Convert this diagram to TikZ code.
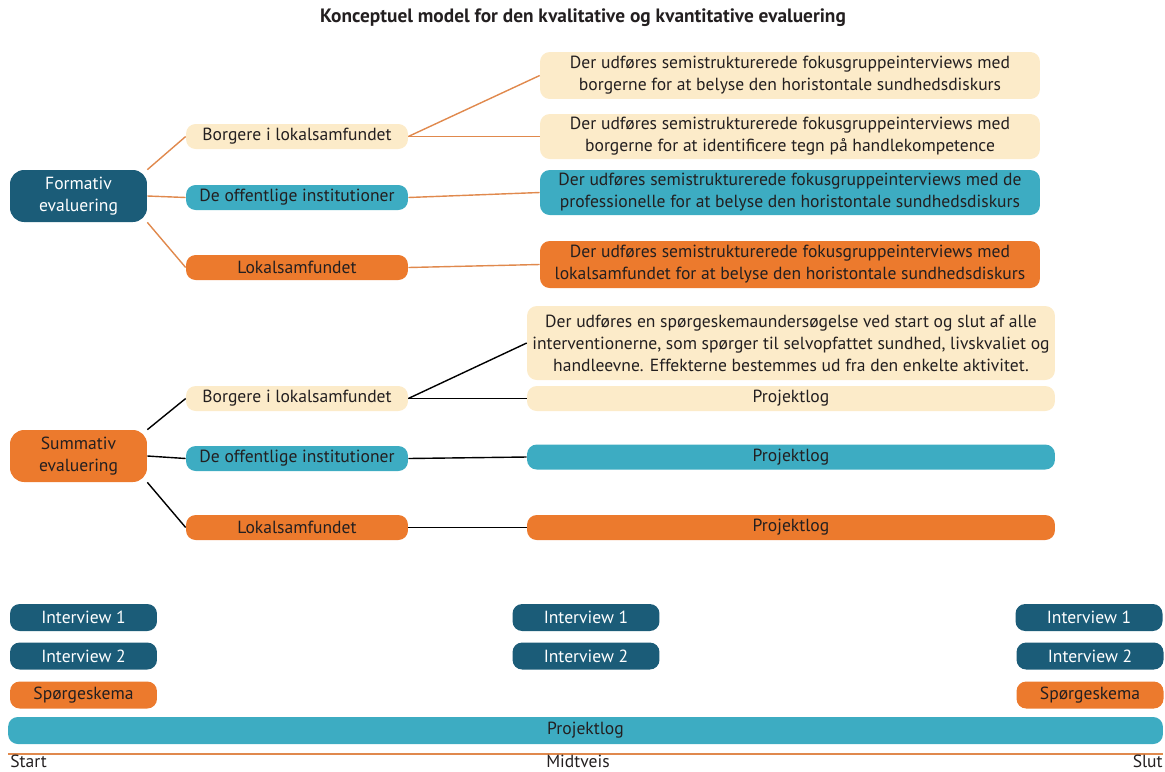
\documentclass[tikz,border=0pt]{standalone}
\usepackage{fontspec}
\setmainfont{PT Sans}
\definecolor{mork}{HTML}{1B5C78}
\definecolor{tyrkis}{HTML}{3DACC2}
\definecolor{orange}{HTML}{EC7A2D}
\definecolor{creme}{HTML}{FCEBC9}
\definecolor{streg}{HTML}{E0894D}
\definecolor{tekst}{HTML}{231F20}
\tikzset{
  boks/.style={rounded corners=5.5pt, inner sep=0pt, align=center, text=tekst,
    font=\fontsize{10}{12.5}\selectfont},
  hoved/.style={boks, minimum width=2.74cm, minimum height=1.04cm, rounded corners=8pt},
  gruppe/.style={boks, minimum width=4.44cm, minimum height=0.5cm},
  metode/.style={boks, minimum width=10cm},
  log/.style={boks, minimum width=10.56cm, minimum height=0.5cm},
  tid/.style={boks, minimum width=2.94cm, minimum height=0.54cm},
  form/.style={draw=streg, line width=0.8pt},
  summ/.style={draw=black, line width=0.8pt}
}
\begin{document}
\begin{tikzpicture}[x=0.02cm, y=-0.02cm]
\useasboundingbox (0,0) rectangle (1165,771);

% Titel
\node[font=\fontsize{11}{13}\selectfont\bfseries, text=tekst] (titel) at (583,18)
  {Konceptuel model for den kvalitative og kvantitative evaluering};

% Formativ evaluering
\node[hoved, fill=mork, text=white] (form) at (78.5,196) {Formativ\\evaluering};
\node[gruppe, fill=creme] (fborg) at (297,136.5) {Borgere i lokalsamfundet};
\node[gruppe, fill=tyrkis] (finst) at (297,197.5) {De offentlige institutioner};
\node[gruppe, fill=orange] (flok) at (297,267.5) {Lokalsamfundet};

\node[metode, fill=creme, minimum height=0.94cm] (fm1) at (790,75.5)
  {Der udføres semistrukturerede fokusgruppeinterviews med\\borgerne for at belyse den horistontale sundhedsdiskurs};
\node[metode, fill=creme, minimum height=0.9cm] (fm2) at (790,136.5)
  {Der udføres semistrukturerede fokusgruppeinterviews med\\borgerne for at identificere tegn på handlekompetence};
\node[metode, fill=tyrkis, minimum height=0.9cm] (fm3) at (790,192.5)
  {Der udføres semistrukturerede fokusgruppeinterviews med de\\professionelle for at belyse den horistontale sundhedsdiskurs};
\node[metode, fill=orange, minimum height=0.94cm] (fm4) at (790,264.5)
  {Der udføres semistrukturerede fokusgruppeinterviews med\\lokalsamfundet for at belyse den horistontale sundhedsdiskurs};

\draw[form] (form.north east) -- (fborg.west);
\draw[form] (form.east) -- (finst.west);
\draw[form] (form.south east) -- (flok.west);
\draw[form] (fborg.east) -- (fm1.west);
\draw[form] (fborg.east) -- (fm2.west);
\draw[form] (finst.east) -- (fm3.west);
\draw[form] (flok.east) -- (fm4.west);

% Summativ evaluering
\node[hoved, fill=orange] (summ) at (78.5,456) {Summativ\\evaluering};
\node[gruppe, fill=creme] (sborg) at (297,398.5) {Borgere i lokalsamfundet};
\node[gruppe, fill=tyrkis] (sinst) at (297,458.5) {De offentlige institutioner};
\node[gruppe, fill=orange] (slok) at (297,527.5) {Lokalsamfundet};

\node[log, fill=creme, minimum height=1.48cm] (sm1) at (791,343)
  {Der udføres en spørgeskemaundersøgelse ved start og slut af alle\\interventionerne, som spørger til selvopfattet sundhed, livskvaliet og\\handleevne. Effekterne bestemmes ud fra den enkelte aktivitet.};
\node[log, fill=creme] (slog1) at (791,398.5) {Projektlog};
\node[log, fill=tyrkis] (slog2) at (791,457) {Projektlog};
\node[log, fill=orange] (slog3) at (791,527.5) {Projektlog};

\draw[summ] (summ.north east) -- (sborg.west);
\draw[summ] (summ.east) -- (sinst.west);
\draw[summ] (summ.south east) -- (slok.west);
\draw[summ] (sborg.east) -- (sm1.west);
\draw[summ] (sborg.east) -- (slog1.west);
\draw[summ] (sinst.east) -- (slog2.west);
\draw[summ] (slok.east) -- (slog3.west);

% Tidslinje
\node[tid, fill=mork, text=white] (start1) at (83.5,617.5) {Interview 1};
\node[tid, fill=mork, text=white] (start2) at (83.5,656) {Interview 2};
\node[tid, fill=orange] (start3) at (83.5,695) {Spørgeskema};
\node[tid, fill=mork, text=white] (midt1) at (586,617.5) {Interview 1};
\node[tid, fill=mork, text=white] (midt2) at (586,656) {Interview 2};
\node[tid, fill=mork, text=white] (slut1) at (1089,617.5) {Interview 1};
\node[tid, fill=mork, text=white] (slut2) at (1090,656) {Interview 2};
\node[tid, fill=orange] (slut3) at (1090,695) {Spørgeskema};
\node[boks, fill=tyrkis, minimum width=23.1cm, minimum height=0.54cm] (tlog) at (585.5,730.5) {Projektlog};

\coordinate (t0) at (8,754);
\coordinate (t1) at (1163,754);
\draw[streg, line width=0.8pt] (t0) -- (t1);
\node[boks, anchor=base west] (tstart) at (10,767) {Start};
\node[boks, anchor=base] (tmidt) at (578,767) {Midtveis};
\node[boks, anchor=base east] (tslut) at (1163,767) {Slut};
\end{tikzpicture}
\end{document}
